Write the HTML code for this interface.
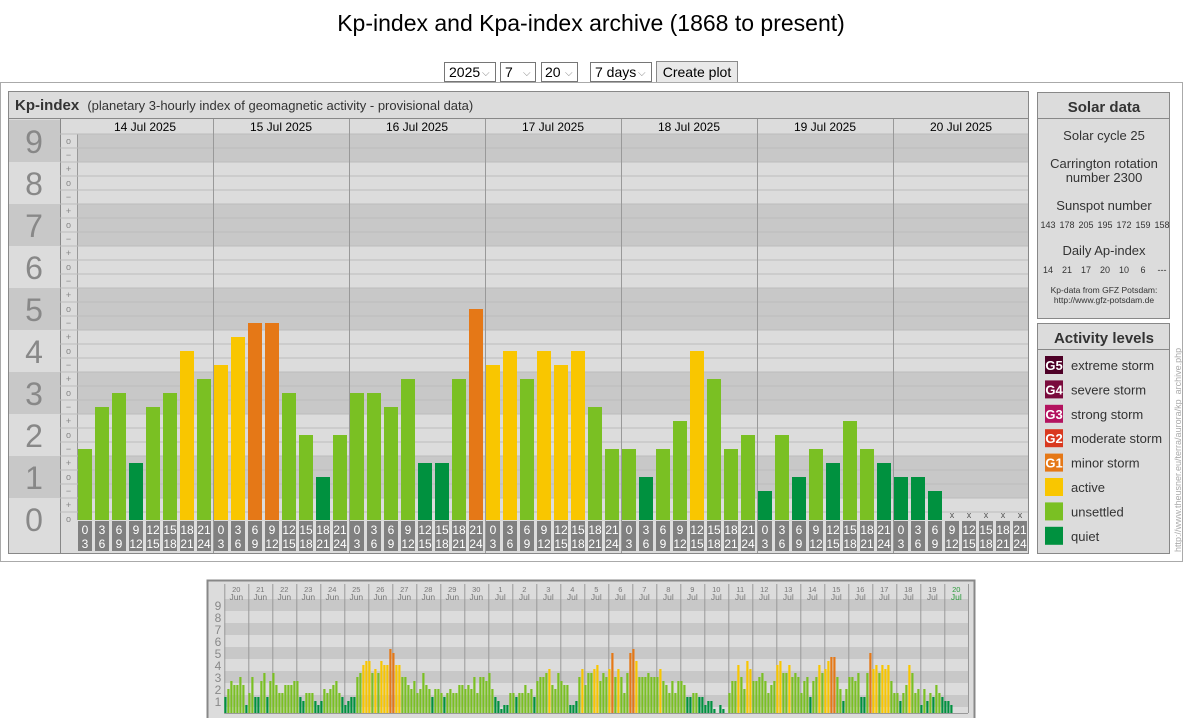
<!DOCTYPE html>
<html><head><meta charset="utf-8">
<style>
body{margin:0;background:#fff;font-family:"Liberation Sans",sans-serif;}
#root{position:relative;width:1183px;height:718px;overflow:hidden;}
svg text{font-family:"Liberation Sans",sans-serif;}
</style></head>
<body>
<div id="root">
<svg id="svg" width="1183" height="718" xmlns="http://www.w3.org/2000/svg">
<text x="591" y="31" font-size="23" text-anchor="middle" fill="#000">Kp-index and Kpa-index archive (1868 to present)</text>
<g><rect x="444.5" y="62.5" width="51" height="19" fill="#fff" stroke="#767676"/><text x="449" y="77" font-size="14">2025</text><text x="482" y="76" font-size="10" fill="#888">⌵</text></g>
<g><rect x="500.5" y="62.5" width="35" height="19" fill="#fff" stroke="#767676"/><text x="505" y="77" font-size="14">7</text><text x="523" y="76" font-size="10" fill="#888">⌵</text></g>
<g><rect x="541.5" y="62.5" width="36" height="19" fill="#fff" stroke="#767676"/><text x="545" y="77" font-size="14">20</text><text x="565" y="76" font-size="10" fill="#888">⌵</text></g>
<g><rect x="590.5" y="62.5" width="61" height="19" fill="#fff" stroke="#767676"/><text x="595" y="77" font-size="14">7 days</text><text x="638" y="76" font-size="10" fill="#888">⌵</text></g>
<g><rect x="656.5" y="61.5" width="81" height="21" fill="#e9e9e9" stroke="#8a8a8a"/><text x="697" y="77" font-size="14" text-anchor="middle">Create plot</text></g>
<rect x="0.5" y="82.5" width="1182" height="479" fill="#fff" stroke="#aaa"/>
<rect x="8.5" y="91.5" width="1020" height="462" fill="#dcdcdc" stroke="#888"/>
<line x1="8" y1="118.5" x2="1029" y2="118.5" stroke="#888"/>
<text x="15" y="110" font-size="15" font-weight="bold" fill="#333">Kp-index <tspan font-weight="normal" font-size="13" dx="4">(planetary 3-hourly index of geomagnetic activity - provisional data)</tspan></text>
<g id="main"></g>
<g id="side"></g>
<text transform="translate(1181,552) rotate(-90)" font-size="9" fill="#aaa">http://www.theusner.eu/terra/aurora/kp_archive.php</text>
<rect x="207.5" y="580.5" width="767" height="145" fill="#dcdcdc" stroke="#888" stroke-width="2"/>
<g id="mini"></g>
</svg>
</div>
<script>
// ---- main chart data (values in thirds: 0o=0, 0+=1, 1-=2, ...) ----
const days = ["14 Jul 2025","15 Jul 2025","16 Jul 2025","17 Jul 2025","18 Jul 2025","19 Jul 2025","20 Jul 2025"];
const kpDay1 = [5,8,9,4,8,9,12,10];
const kpDay2 = [11,13,14,14,9,6,3,6];
const kpDay3 = [9,9,8,10,4,4,10,15];
const kpDay4 = [11,12,10,12,11,12,8,5];
const kpDay5 = [5,3,5,7,12,10,5,6];
const kpDay6 = [2,6,3,5,4,7,5,4];
const kpDay7 = [3,3,2,null,null,null,null,null];
const timeStarts = ["0","3","6","9","12","15","18","21"];
const timeEnds = ["3","6","9","12","15","18","21","24"];
const yTickLabels = ["0","1","2","3","4","5","6","7","8","9"];
const sunspots = ["143","178","205","195","172","159","158"];
const apIndex = ["14","21","17","20","10","6","---"];
// ---- overview (31 days) data ----
const miniDays = ["20","21","22","23","24","25","26","27","28","29","30","1","2","3","4","5","6","7","8","9","10","11","12","13","14","15","16","17","18","19","20"];
const miniMonths = ["Jun","Jun","Jun","Jun","Jun","Jun","Jun","Jun","Jun","Jun","Jun","Jul","Jul","Jul","Jul","Jul","Jul","Jul","Jul","Jul","Jul","Jul","Jul","Jul","Jul","Jul","Jul","Jul","Jul","Jul","Jul"];
const miniKp = [
 4,6,8,7,7,9,7,2, 5,9,4,4,8,10,4,8, 10,7,5,5,7,7,7,8, 8,4,3,5,5,5,3,2,
 3,6,5,6,7,8,5,4, 2,3,4,4,9,10,12,13, 13,10,11,10,13,12,12,16, 15,12,12,9,9,7,6,8,
 5,6,10,7,6,4,6,6, 5,4,5,6,5,5,7,7, 6,7,6,9,5,9,9,8, 10,6,4,3,1,2,2,5,
 5,4,5,5,7,5,6,4, 8,9,9,10,11,7,6,10, 8,7,7,2,2,3,9,11, 7,10,10,11,12,8,10,9,
 11,15,9,11,9,5,10,15, 16,13,9,9,9,10,9,9, 9,11,8,7,5,8,5,8, 8,7,4,4,5,5,4,4,
 2,3,3,1,0,2,1,0, 5,8,8,12,9,6,13,11, 8,8,9,10,8,5,7,8, 12,13,10,10,12,9,10,9,
 5,8,9,4,8,9,12,10, 11,13,14,14,9,6,3,6, 9,9,8,10,4,4,10,15, 11,12,10,12,11,12,8,5,
 5,3,5,7,12,10,5,6, 2,6,3,5,4,7,5,4, 3,3,2];

const NS="http://www.w3.org/2000/svg";
function mk(parent,tag,attrs,text){const e=document.createElementNS(NS,tag);for(const k in attrs)e.setAttribute(k,attrs[k]);if(text!==undefined)e.textContent=text;parent.appendChild(e);return e;}
function colorFor(v){if(v<=4)return"#00913f";if(v<=10)return"#7ac023";if(v<=13)return"#f9c600";if(v<=16)return"#e57817";if(v<=19)return"#d9381e";if(v<=22)return"#b3135f";if(v<=25)return"#7a0a3c";return"#4d0026";}

// main axes
const X0=77, DAYW=136, SLOT=17, Y0=519, THIRD=14;
const xDay=d=>X0+DAYW*d;
const xSlot=(d,s)=>xDay(d)+SLOT*s;
const yMain=v=>Y0-THIRD*v;
const main=document.getElementById('main');
// bands
for(let n=0;n<=9;n++){
  const top=Math.max(134,yMain(3*n+1.5)), bot=Math.min(n===0?553:520,yMain(3*n-1.5));
  const fill=(n%2===1)?"#c8c8c8":"#dcdcdc";
  let r=mk(main,'rect',{x:X0,y:top,width:DAYW*7,height:bot-top,fill:fill});
  
  
  const lt=Math.max(119,yMain(3*n+1.5)), lb=n===0?553:yMain(3*n-1.5);
  let r2=mk(main,'rect',{x:9,y:lt,width:51,height:lb-lt,fill:fill});
  
  
  let t=mk(main,'text',{x:34,y:yMain(3*n)+12,'font-size':32,fill:'#888','text-anchor':'middle'},yTickLabels[n]);
  
  
}
mk(main,'rect',{x:60,y:119,width:17,height:434,fill:'#dcdcdc'});
mk(main,'line',{x1:60.5,y1:119,x2:60.5,y2:553,stroke:'#888'});
mk(main,'line',{x1:77.5,y1:119,x2:77.5,y2:553,stroke:'#999'});
// gridlines & symbols
for(let v=0;v<=27;v++){
  const gy=yMain(v+0.5);
  if(gy>=134) mk(main,'line',{x1:60,y1:gy,x2:X0+DAYW*7,y2:gy,stroke:'#bdbdbd','stroke-width':1});
  const sym=['o','+','−'][v%3];
  let s=mk(main,'text',{x:68.5,y:yMain(v)+3,'font-size':9,fill:'#888','text-anchor':'middle'},sym);
  
  
}
mk(main,'rect',{x:X0,y:520,width:DAYW*7,height:33,fill:'#dcdcdc'});
mk(main,'rect',{x:X0,y:119,width:DAYW*7,height:15,fill:'#dcdcdc'});
mk(main,'line',{x1:X0,y1:134,x2:X0+DAYW*7,y2:134,stroke:'#bdbdbd'});
const allKp=[kpDay1,kpDay2,kpDay3,kpDay4,kpDay5,kpDay6,kpDay7];
for(let d=0;d<7;d++){
  let dl=mk(main,'text',{x:xDay(d)+DAYW/2,y:131,'font-size':12,'text-anchor':'middle',fill:'#000'},days[d]);
  
  
  if(d>0) mk(main,'line',{x1:xDay(d)+0.5,y1:119,x2:xDay(d)+0.5,y2:553,stroke:'#999'});
  for(let s=0;s<8;s++){
    const v=allKp[d][s], x=xSlot(d,s)+1;
    if(v===null||v===undefined){
      let xm=mk(main,'text',{x:x+7,y:518,'font-size':9,fill:'#555','text-anchor':'middle'},'x');
      
      
    } else {
      let b=mk(main,'rect',{x:x,y:yMain(v),width:14,height:Y0+1-yMain(v),fill:colorFor(v)});
      
      
    }
    let tb=mk(main,'rect',{x:x,y:521,width:14,height:30,fill:'#808080'});
    
    
    mk(main,'text',{x:x+7,y:534,'font-size':12,fill:'#fff','text-anchor':'middle'},timeStarts[s]);
    mk(main,'text',{x:x+7,y:548,'font-size':12,fill:'#fff','text-anchor':'middle'},timeEnds[s]);
  }
}
mk(main,'rect',{x:8.5,y:118.5,width:1020,height:435,fill:'none',stroke:'#888'});

// side panel
const side=document.getElementById('side');
let sb=mk(side,'rect',{x:1037.5,y:92.5,width:132,height:226,fill:'#dcdcdc',stroke:'#888'});


mk(side,'line',{x1:1037,y1:118.5,x2:1170,y2:118.5,stroke:'#888'});
mk(side,'text',{x:1104,y:112,'font-size':15,'font-weight':'bold','text-anchor':'middle',fill:'#333'},'Solar data');
[['Solar cycle 25',140],['Carrington rotation',168],['number 2300',182],['Sunspot number',210],['Daily Ap-index',255]].forEach(([t,y])=>{
  let e=mk(side,'text',{x:1104,y:y,'font-size':13,'text-anchor':'middle',fill:'#333'},t);
  
  
});
sunspots.forEach((s,i)=>{mk(side,'text',{x:1048+i*19,y:228,'font-size':9,'text-anchor':'middle',fill:'#333'},s);});
apIndex.forEach((s,i)=>{mk(side,'text',{x:1048+i*19,y:273,'font-size':9,'text-anchor':'middle',fill:'#333'},s);});
mk(side,'text',{x:1104,y:293,'font-size':8.5,'text-anchor':'middle',fill:'#333'},'Kp-data from GFZ Potsdam:');
mk(side,'text',{x:1104,y:303,'font-size':8.5,'text-anchor':'middle',fill:'#333'},'http://www.gfz-potsdam.de');
let ab=mk(side,'rect',{x:1037.5,y:323.5,width:132,height:230,fill:'#dcdcdc',stroke:'#888'});


mk(side,'line',{x1:1037,y1:349.5,x2:1170,y2:349.5,stroke:'#888'});
mk(side,'text',{x:1104,y:343,'font-size':15,'font-weight':'bold','text-anchor':'middle',fill:'#333'},'Activity levels');
const legG=['G5','G4','G3','G2','G1','','',''];
const legT=['extreme storm','severe storm','strong storm','moderate storm','minor storm','active','unsettled','quiet'];
const legC=['#4d0026','#7a0a3c','#b3135f','#d9381e','#e57817','#f9c600','#7ac023','#00913f'];
legT.forEach((t,i)=>{
  const cy=365+24.4*i;
  let r=mk(side,'rect',{x:1045,y:cy-9,width:18,height:18,fill:legC[i]});
  
  
  if(legG[i]) mk(side,'text',{x:1054,y:cy+5,'font-size':13,'font-weight':'bold','text-anchor':'middle',fill:'#fff'},legG[i]);
  let e=mk(side,'text',{x:1071,y:cy+5,'font-size':13,fill:'#333'},t);
  
  
});

// mini overview
const mini=document.getElementById('mini');
const MX0=224.3, MDW=24, MY0=713, MT=4;
const xm=i=>MX0+MDW*Math.floor(i/8)+3*(i%8);
const ym=v=>MY0-MT*v;
for(let n=1;n<=9;n++){
  const top=Math.max(598,ym(3*n+1.5)), bot=ym(3*n-1.5);
  mk(mini,'rect',{x:MX0,y:top,width:MDW*31,height:bot-top,fill:(n%2===1)?'#c8c8c8':'#dcdcdc'});
  let t=mk(mini,'text',{x:218,y:ym(3*n)+5,'font-size':12,fill:'#888','text-anchor':'middle'},yTickLabels[n]);
  
  
}
miniDays.forEach((d,i)=>{
  const x=MX0+MDW*i;
  mk(mini,'line',{x1:x+0.5,y1:584,x2:x+0.5,y2:713,stroke:'#999'});
  const col=i===30?'#2a9a3a':'#777';
  let t=mk(mini,'text',{x:x+12,y:592,'font-size':7.5,fill:col,'text-anchor':'middle'},d);
  
  
  mk(mini,'text',{x:x+12,y:600,'font-size':8.5,fill:col,'text-anchor':'middle'},miniMonths[i]);
});
mk(mini,'line',{x1:968.5,y1:584,x2:968.5,y2:713,stroke:'#999'});
miniKp.forEach((v,i)=>{
  let b=mk(mini,'rect',{x:xm(i),y:ym(v),width:2.2,height:MY0-ym(v)+0.5,fill:colorFor(v)});
  
  
});
mk(mini,'line',{x1:MX0,y1:713.5,x2:968,y2:713.5,stroke:'#999'});
</script>
</body></html>
